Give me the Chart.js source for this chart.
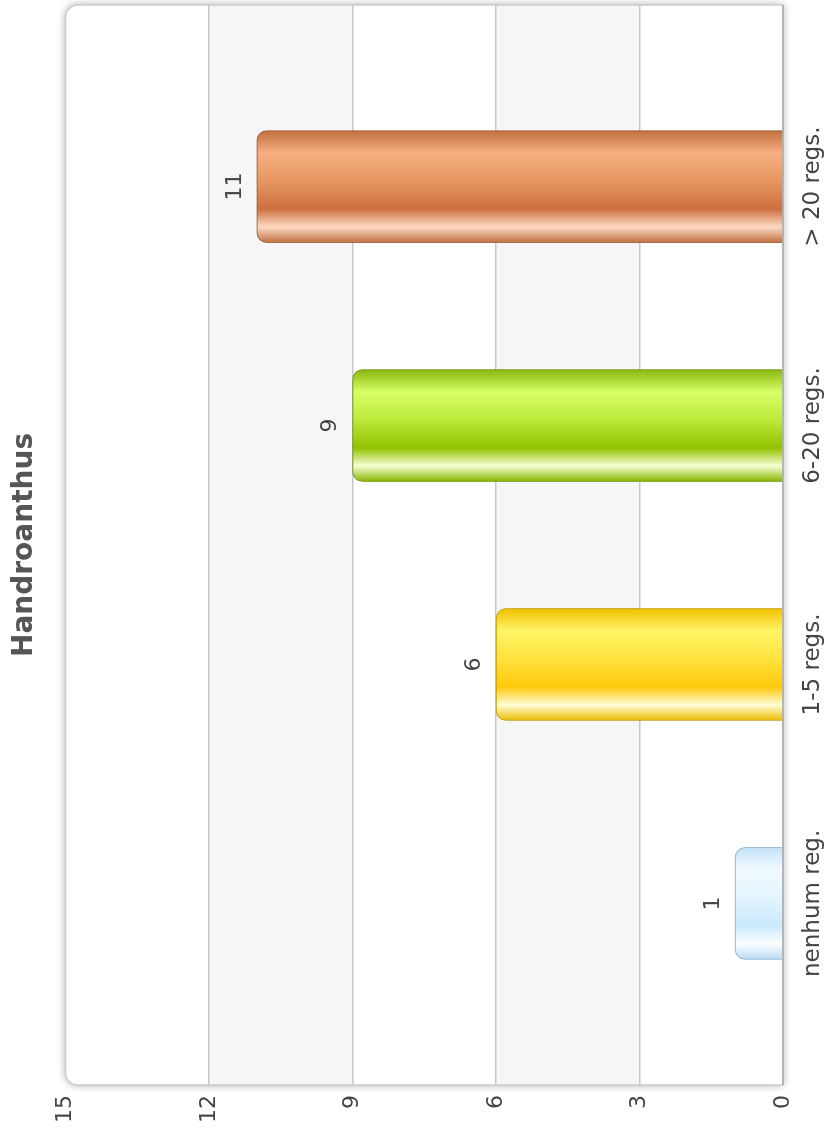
<!DOCTYPE html>
<html>
<head>
<meta charset="utf-8">
<style>
  html, body { margin: 0; padding: 0; background: #fff; overflow: hidden; }
  #wrap {
    position: absolute; left: 0; top: 1136px;
    width: 1136px; height: 826px;
    transform-origin: 0 0; transform: rotate(-90deg);
  }
</style>
</head>
<body>
<div id="wrap"><canvas id="myChart" width="1136" height="826"></canvas></div>

<script src="https://cdn.jsdelivr.net/npm/chart.js@4.4.0/dist/chart.umd.min.js"></script>
<script>
  // chart data
  const title = 'Handroanthus';
  const categories = ['nenhum reg.', '1-5 regs.', '6-20 regs.', '> 20 regs.'];
  const counts = [1, 6, 9, 11];
  const valueTicks = [0, 3, 6, 9, 12, 15];

  // gradient stops per bar (first stop = upper edge of the bar on screen)
  const barStops = [
    [['#c4e2f8', 0], ['#f0faff', 0.2], ['#e2f4ff', 0.45], ['#cbe9fd', 0.7], ['#fafdff', 0.86], ['#bcdcf4', 1]],
    [['#f0c000', 0], ['#fff466', 0.2], ['#ffe23e', 0.45], ['#ffc80a', 0.7], ['#fffbd6', 0.86], ['#eebf00', 1]],
    [['#88b80c', 0], ['#d6ff66', 0.2], ['#bcea3a', 0.45], ['#90c200', 0.7], ['#f6ffd4', 0.86], ['#86b600', 1]],
    [['#c27040', 0], ['#f6ae82', 0.2], ['#e6975f', 0.45], ['#cc7040', 0.7], ['#fcd9c2', 0.86], ['#c27242', 1]]
  ];
  const barBorders = ['#98c8ec', '#dcae00', '#7ea600', '#b06434'];

  const font = 'DejaVu Sans';
  const barW = 112;

  function barFill(context) {
    const chart = context.chart;
    const i = context.dataIndex;
    if (!chart.chartArea) return barStops[i][2][0];
    const cx = chart.scales.x.getPixelForValue(i);
    // screen top of the bar is the right side of the unrotated canvas
    const g = chart.ctx.createLinearGradient(cx + barW / 2, 0, cx - barW / 2, 0);
    for (const s of barStops[i]) g.addColorStop(s[1], s[0]);
    return g;
  }

  const plotBackground = {
    id: 'plotBackground',
    beforeDraw(chart) {
      const {ctx, chartArea: a, scales: {y}} = chart;
      ctx.save();
      ctx.shadowColor = 'rgba(0,0,0,0.35)';
      ctx.shadowBlur = 8;
      ctx.fillStyle = '#ffffff';
      ctx.beginPath();
      ctx.roundRect(a.left, a.top, a.right - a.left, a.bottom - a.top, [12, 12, 0, 0]);
      ctx.fill();
      ctx.restore();
      ctx.save();
      ctx.fillStyle = '#f6f6f6';
      for (const band of [[9, 12], [3, 6]]) {
        const t = y.getPixelForValue(band[1]);
        const b = y.getPixelForValue(band[0]);
        ctx.fillRect(a.left, t, a.right - a.left, b - t);
      }
      ctx.restore();
    },
    beforeDatasetsDraw(chart) {
      const {ctx, chartArea: a} = chart;
      ctx.save();
      ctx.strokeStyle = '#cccccc';
      ctx.lineWidth = 1.5;
      ctx.beginPath();
      ctx.roundRect(a.left, a.top, a.right - a.left, a.bottom - a.top, [12, 12, 0, 0]);
      ctx.stroke();
      ctx.strokeStyle = '#b4b4b4';
      ctx.lineWidth = 2;
      ctx.beginPath();
      ctx.moveTo(a.left, a.bottom);
      ctx.lineTo(a.right, a.bottom);
      ctx.stroke();
      ctx.restore();
      ctx.save();
      ctx.shadowColor = 'rgba(0,0,0,0.22)';
      ctx.shadowBlur = 4;
    },
    afterDatasetsDraw(chart) {
      const ctx = chart.ctx;
      ctx.restore();
      // value labels above the bars
      const meta = chart.getDatasetMeta(0);
      ctx.save();
      ctx.fillStyle = '#444';
      ctx.font = '22px "' + font + '"';
      ctx.textAlign = 'center';
      ctx.textBaseline = 'middle';
      meta.data.forEach((bar, i) => {
        ctx.fillText(String(counts[i]), bar.x, bar.y - 22);
      });
      ctx.restore();
    }
  };

  const ctx = document.getElementById('myChart');

  const chart = new Chart(ctx, {
    type: 'bar',
    plugins: [plotBackground],
    data: {
      datasets: [{
        data: counts.map((v, i) => ({x: i, y: v})),
        backgroundColor: barFill,
        borderColor: barBorders,
        borderWidth: 1,
        borderSkipped: 'bottom',
        borderRadius: {topLeft: 10, topRight: 10, bottomLeft: 0, bottomRight: 0},
        barThickness: barW
      }]
    },
    options: {
      responsive: false,
      animation: false,
      layout: {padding: {left: 0, right: 5, top: 0, bottom: 0}},
      plugins: {
        legend: {display: false},
        tooltip: {enabled: false},
        title: {
          display: true,
          text: title,
          fullSize: false,
          color: '#555',
          font: {family: font, size: 28, weight: 'bold'},
          padding: {top: 8, bottom: 24}
        }
      },
      scales: {
        x: {
          type: 'linear',
          offset: false,
          min: -0.76,
          max: 3.76,
          afterBuildTicks: axis => { axis.ticks = categories.map((c, i) => ({value: i})); },
          afterFit: s => { s.height = 43; },
          grid: {display: false},
          border: {display: false},
          ticks: {
            autoSkip: false,
            maxRotation: 0,
            padding: 8,
            color: '#444',
            font: {family: font, size: 23},
            callback: v => categories[v]
          }
        },
        y: {
          min: 0,
          max: 15,
          afterBuildTicks: axis => { axis.ticks = valueTicks.map(v => ({value: v})); },
          afterFit: s => { s.width = 51; },
          border: {display: false},
          grid: {
            drawTicks: false,
            lineWidth: 1.5,
            color: c => (c.tick.value === 0 || c.tick.value === 15) ? 'rgba(0,0,0,0)' : '#c8c8c8'
          },
          ticks: {
            padding: 10,
            color: '#444',
            font: {family: font, size: 22}
          }
        }
      }
    }
  });
</script>
</body>
</html>
